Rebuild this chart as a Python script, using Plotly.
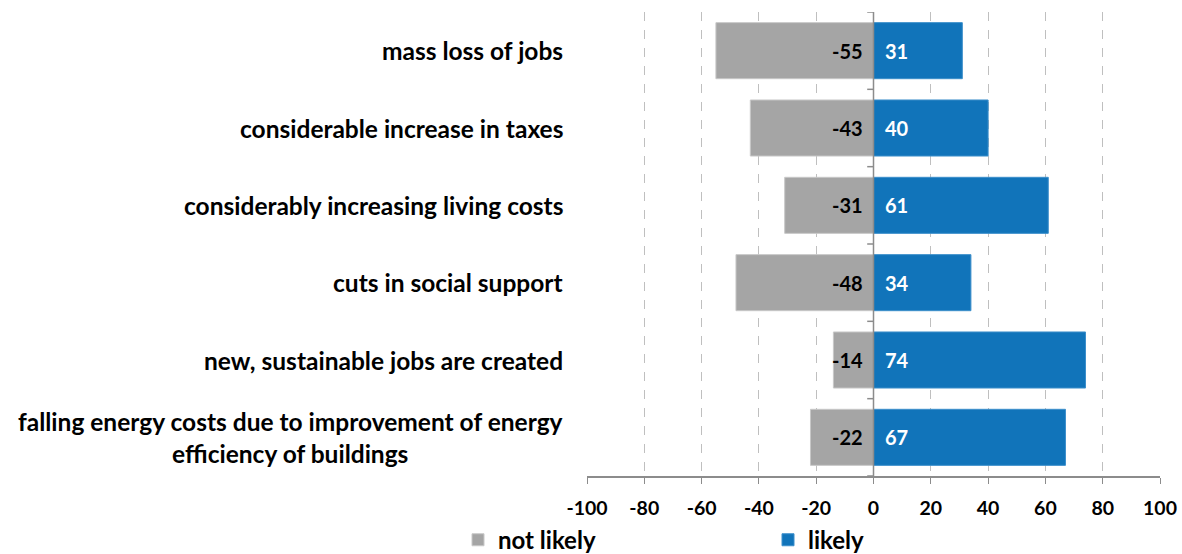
import plotly.graph_objects as go

categories = [
    "mass loss of jobs",
    "considerable increase in taxes",
    "considerably increasing living costs",
    "cuts in social support",
    "new, sustainable jobs are created",
    "falling energy costs due to improvement of energy<br>efficiency of buildings",
]
not_likely = [-55, -43, -31, -48, -14, -22]
likely = [31, 40, 61, 34, 74, 67]
x_ticks = [-100, -80, -60, -40, -20, 0, 20, 40, 60, 80, 100]

GREY = "#A5A5A5"
BLUE = "#1174BA"
FONT = "Lato"

ypos = list(range(len(categories)))

fig = go.Figure()
fig.add_trace(go.Bar(
    name="not likely", y=ypos, x=not_likely, orientation="h",
    marker=dict(color=GREY, line=dict(color="#C8C8C8", width=1)),
    legend="legend",
))
fig.add_trace(go.Bar(
    name="likely", y=ypos, x=likely, orientation="h",
    marker=dict(color=BLUE, line=dict(color="#3C8FCB", width=1)),
    legend="legend2",
))

# value labels sitting next to the zero line inside each bar
for i, v in enumerate(not_likely):
    fig.add_annotation(x=0, y=i, xref="x", yref="y", xanchor="right",
                       xshift=-9, text=str(v), showarrow=False,
                       font=dict(family=FONT, size=20, color="black",
                                 weight="bold"))
for i, v in enumerate(likely):
    fig.add_annotation(x=0, y=i, xref="x", yref="y", xanchor="left",
                       xshift=9, text=str(v), showarrow=False,
                       font=dict(family=FONT, size=20, color="white",
                                 weight="bold"))

# category labels, centred line by line, right-aligned to the plot edge
for i, c in enumerate(categories):
    fig.add_annotation(
        x=0, xref="paper", xanchor="right", xshift=-22,
        y=i, yref="y", yanchor="middle",
        text=c, showarrow=False, align="center",
        font=dict(family=FONT, size=24.5, color="black", weight="bold"),
    )

# category axis line at zero with boundary ticks
fig.add_shape(type="line", xref="x", yref="y", x0=0, x1=0,
              y0=-0.5, y1=len(categories) - 0.5,
              line=dict(color="#8C8C8C", width=1.5), layer="above")
for i in range(len(categories) + 1):
    fig.add_shape(type="line", xref="x", yref="y", x0=-2.2, x1=0,
                  y0=i - 0.5, y1=i - 0.5,
                  line=dict(color="#8C8C8C", width=1.5))

legend_style = dict(
    orientation="h", xref="container", yref="container",
    xanchor="left", y=0.025, yanchor="middle",
    font=dict(family=FONT, size=24, color="black", weight="bold"),
    itemwidth=30, bgcolor="rgba(0,0,0,0)",
)

fig.update_layout(
    barmode="relative",
    bargap=0.275,
    width=1182, height=554,
    margin=dict(l=587, r=22, t=12, b=78, autoexpand=False),
    plot_bgcolor="white", paper_bgcolor="white",
    font=dict(family=FONT, color="black"),
    showlegend=True,
    legend=dict(x=458 / 1182, **legend_style),
    legend2=dict(x=768 / 1182, **legend_style),
    xaxis=dict(
        range=[-100, 100], tickvals=x_ticks,
        ticktext=[str(v) for v in x_ticks],
        tickfont=dict(family=FONT, size=19.5, color="black", weight="bold"),
        ticklabelstandoff=8,
        showgrid=True, gridcolor="#BFBFBF", griddash="dash", gridwidth=1,
        zeroline=False,
        showline=True, linecolor="#8C8C8C", linewidth=1.5,
        ticks="outside", ticklen=6, tickcolor="#8C8C8C",
        fixedrange=True,
    ),
    yaxis=dict(
        range=[len(categories) - 0.5, -0.5],
        showticklabels=False, showgrid=False, zeroline=False,
        fixedrange=True,
    ),
)

fig.write_html("out.html")
